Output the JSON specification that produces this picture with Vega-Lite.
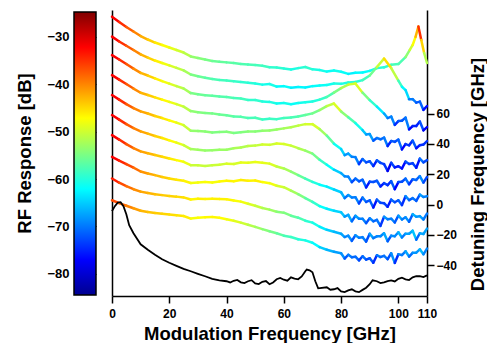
{
"$schema": "https://vega.github.io/schema/vega-lite/v6.json",
"padding": {"left": 15, "top": 10, "right": 0, "bottom": 0},
"spacing": 11,
"config": {
 "view": {"stroke": null},
 "font": "Liberation Sans",
 "axis": {"labelFont": "Liberation Sans", "titleFont": "Liberation Sans", "labelColor": "black", "titleColor": "black", "domainColor": "black", "tickColor": "black", "domainWidth": 1.5, "tickWidth": 1.5, "grid": false, "labelFontWeight": "bold", "titleFontWeight": "bold"}
},
"datasets": {
 "bar": [{"lo": -84.5, "hi": -24.7, "a": 0, "b": 1}],
 "black": [
  {"f":0,"y":-4.4},{"f":1,"y":-1.1},{"f":2,"y":1.2},{"f":3,"y":1.5},{"f":4,"y":-1.1},{"f":5,"y":-6.4},{"f":6,"y":-13.7},{"f":7.5,"y":-19.0},{"f":10,"y":-26.3},{"f":12.5,"y":-29.9},{"f":15,"y":-33.2},{"f":17.5,"y":-36.2},{"f":20,"y":-38.5},{"f":22.5,"y":-40.5},{"f":25,"y":-42.5},{"f":27.5,"y":-44.1},{"f":30,"y":-45.8},{"f":32.5,"y":-47.4},{"f":35,"y":-49.1},{"f":37.5,"y":-50.1},{"f":40,"y":-50.7},{"f":41.25,"y":-51.5},{"f":42.5,"y":-50.4},{"f":43.75,"y":-49.8},{"f":45,"y":-51.4},{"f":46.25,"y":-51.9},{"f":47.5,"y":-50.7},{"f":48.75,"y":-50.0},{"f":50,"y":-52.1},{"f":51.25,"y":-52.6},{"f":52.5,"y":-51.1},{"f":53.75,"y":-50.6},{"f":55,"y":-52.7},{"f":56.25,"y":-51.5},{"f":57.5,"y":-49.4},{"f":58.75,"y":-48.5},{"f":60,"y":-49.7},{"f":61.25,"y":-50.3},{"f":62.5,"y":-48.1},{"f":63.75,"y":-48.9},{"f":65,"y":-49.4},{"f":66.25,"y":-47.5},{"f":67.5,"y":-44.1},{"f":68,"y":-43.0},{"f":69,"y":-43.5},{"f":70,"y":-44.8},{"f":71,"y":-50.7},{"f":72,"y":-55.4},{"f":75,"y":-54.7},{"f":76.25,"y":-56.3},{"f":77.5,"y":-56.0},{"f":78.75,"y":-55.2},{"f":80,"y":-57.4},{"f":81.25,"y":-57.9},{"f":82.5,"y":-56.7},{"f":83.75,"y":-56.0},{"f":85,"y":-57.4},{"f":86.25,"y":-57.9},{"f":87.5,"y":-56.4},{"f":88.75,"y":-55.0},{"f":90,"y":-52.7},{"f":91,"y":-50.1},{"f":92.5,"y":-50.7},{"f":93.75,"y":-51.9},{"f":95,"y":-51.4},{"f":96.25,"y":-50.6},{"f":97.5,"y":-50.1},{"f":98.75,"y":-50.8},{"f":100,"y":-49.1},{"f":101.25,"y":-48.4},{"f":102.5,"y":-49.4},{"f":103.75,"y":-49.9},{"f":105,"y":-48.1},{"f":106.25,"y":-47.4},{"f":107.5,"y":-47.4},{"f":108.75,"y":-48.0},{"f":110,"y":-46.8}
 ],
 "curves": [
  {"c":0,"f":0,"y":124.1,"d":-32.0},{"c":0,"f":2.5,"y":120.6,"d":-34.8},{"c":0,"f":5,"y":117.3,"d":-37.5},{"c":0,"f":7.5,"y":114.3,"d":-40.0},{"c":0,"f":10,"y":111.3,"d":-42.4},{"c":0,"f":12.5,"y":109.0,"d":-44.3},{"c":0,"f":15,"y":107.0,"d":-46.0},{"c":0,"f":17.5,"y":105.4,"d":-47.3},{"c":0,"f":20,"y":103.7,"d":-48.6},{"c":0,"f":22.5,"y":102.1,"d":-50.0},{"c":0,"f":25,"y":100.4,"d":-51.3},{"c":0,"f":27.5,"y":97.8,"d":-53.5},{"c":0,"f":30,"y":96.8,"d":-54.3},{"c":0,"f":32.5,"y":95.8,"d":-55.1},{"c":0,"f":35,"y":94.8,"d":-55.9},{"c":0,"f":37.5,"y":94.3,"d":-56.3},{"c":0,"f":40,"y":93.9,"d":-56.7},{"c":0,"f":42.5,"y":93.5,"d":-57.0},{"c":0,"f":45,"y":92.9,"d":-57.5},{"c":0,"f":47.5,"y":92.5,"d":-57.8},{"c":0,"f":50,"y":92.1,"d":-58.1},{"c":0,"f":52.5,"y":91.6,"d":-58.5},{"c":0,"f":55,"y":90.7,"d":-59.3},{"c":0,"f":57.5,"y":90.5,"d":-59.4},{"c":0,"f":60,"y":89.9,"d":-59.9},{"c":0,"f":62.5,"y":89.2,"d":-60.5},{"c":0,"f":65,"y":90.1,"d":-59.8},{"c":0,"f":67.5,"y":90.8,"d":-59.2},{"c":0,"f":70,"y":89.3,"d":-60.4},{"c":0,"f":72.5,"y":88.8,"d":-60.8},{"c":0,"f":75,"y":87.8,"d":-61.6},{"c":0,"f":77.5,"y":88.5,"d":-61.1},{"c":0,"f":80,"y":87.7,"d":-61.7},{"c":0,"f":82.5,"y":86.3,"d":-62.9},{"c":0,"f":85,"y":87.0,"d":-62.3},{"c":0,"f":87.5,"y":87.2,"d":-62.1},{"c":0,"f":90,"y":88.3,"d":-61.2},{"c":0,"f":92.5,"y":90.1,"d":-59.8},{"c":0,"f":95,"y":90.6,"d":-59.4},{"c":0,"f":97.5,"y":92.3,"d":-58.0},{"c":0,"f":100,"y":92.8,"d":-57.6},{"c":0,"f":102.5,"y":97.4,"d":-53.8},{"c":0,"f":104,"y":102.1,"d":-50.0},{"c":0,"f":105,"y":105.4,"d":-47.3},{"c":0,"f":106,"y":110.7,"d":-42.9},{"c":0,"f":107,"y":117.6,"d":-35.0},{"c":0,"f":108,"y":108.7,"d":-44.6},{"c":0,"f":109,"y":100.1,"d":-51.6},{"c":0,"f":110,"y":93.5,"d":-57.0},

  {"c":1,"f":0,"y":110.9,"d":-32.0},{"c":1,"f":2.5,"y":107.7,"d":-34.9},{"c":1,"f":5,"y":104.9,"d":-37.4},{"c":1,"f":7.5,"y":102.1,"d":-40.0},{"c":1,"f":10,"y":99.2,"d":-42.7},{"c":1,"f":12.5,"y":97.1,"d":-44.6},{"c":1,"f":15,"y":95.1,"d":-46.4},{"c":1,"f":17.5,"y":93.5,"d":-47.9},{"c":1,"f":20,"y":91.9,"d":-49.4},{"c":1,"f":22.5,"y":90.3,"d":-50.8},{"c":1,"f":25,"y":88.6,"d":-52.4},{"c":1,"f":27.5,"y":85.9,"d":-54.9},{"c":1,"f":30,"y":84.7,"d":-56.0},{"c":1,"f":32.5,"y":83.7,"d":-56.9},{"c":1,"f":35,"y":82.9,"d":-57.6},{"c":1,"f":37.5,"y":82.3,"d":-58.2},{"c":1,"f":40,"y":82.0,"d":-58.4},{"c":1,"f":42.5,"y":81.5,"d":-58.9},{"c":1,"f":45,"y":81.0,"d":-59.4},{"c":1,"f":47.5,"y":80.5,"d":-59.8},{"c":1,"f":50,"y":80.0,"d":-60.3},{"c":1,"f":52.5,"y":79.2,"d":-61.0},{"c":1,"f":55,"y":79.6,"d":-60.6},{"c":1,"f":57.5,"y":77.9,"d":-62.2},{"c":1,"f":60,"y":78.2,"d":-61.9},{"c":1,"f":62.5,"y":77.1,"d":-62.9},{"c":1,"f":65,"y":77.7,"d":-62.4},{"c":1,"f":67.5,"y":77.3,"d":-62.7},{"c":1,"f":70,"y":78.2,"d":-61.9},{"c":1,"f":72.5,"y":78.6,"d":-61.6},{"c":1,"f":75,"y":78.9,"d":-61.3},{"c":1,"f":77.5,"y":79.9,"d":-60.4},{"c":1,"f":80,"y":79.7,"d":-60.5},{"c":1,"f":82.5,"y":80.6,"d":-59.7},{"c":1,"f":85,"y":80.9,"d":-59.4},{"c":1,"f":87.5,"y":82.2,"d":-58.3},{"c":1,"f":90,"y":85.2,"d":-55.5},{"c":1,"f":92.5,"y":90.8,"d":-50.4},{"c":1,"f":95,"y":96.4,"d":-45.2},{"c":1,"f":97.5,"y":90.1,"d":-51.0},{"c":1,"f":100,"y":81.9,"d":-58.5},{"c":1,"f":101.25,"y":77.8,"d":-62.3},{"c":1,"f":102.5,"y":75.6,"d":-64.3},{"c":1,"f":103.75,"y":69.6,"d":-69.8},{"c":1,"f":105,"y":69.6,"d":-69.8},{"c":1,"f":106.25,"y":67.3,"d":-72.0},{"c":1,"f":107.5,"y":68.0,"d":-71.3},{"c":1,"f":108.75,"y":62.5,"d":-76.3},{"c":1,"f":110,"y":65.0,"d":-74.0},

  {"c":2,"f":0,"y":98.7,"d":-32.0},{"c":2,"f":2.5,"y":95.8,"d":-34.7},{"c":2,"f":5,"y":92.8,"d":-37.4},{"c":2,"f":7.5,"y":89.8,"d":-40.2},{"c":2,"f":10,"y":87.0,"d":-42.8},{"c":2,"f":12.5,"y":85.2,"d":-44.4},{"c":2,"f":15,"y":83.3,"d":-46.2},{"c":2,"f":17.5,"y":81.5,"d":-47.8},{"c":2,"f":20,"y":79.9,"d":-49.3},{"c":2,"f":22.5,"y":78.2,"d":-50.8},{"c":2,"f":25,"y":76.6,"d":-52.3},{"c":2,"f":27.5,"y":73.6,"d":-55.0},{"c":2,"f":30,"y":72.8,"d":-55.8},{"c":2,"f":32.5,"y":72.2,"d":-56.3},{"c":2,"f":35,"y":71.8,"d":-56.7},{"c":2,"f":37.5,"y":71.3,"d":-57.2},{"c":2,"f":40,"y":71.0,"d":-57.4},{"c":2,"f":42.5,"y":70.4,"d":-58.0},{"c":2,"f":45,"y":70.0,"d":-58.3},{"c":2,"f":47.5,"y":69.1,"d":-59.2},{"c":2,"f":50,"y":69.0,"d":-59.3},{"c":2,"f":52.5,"y":68.0,"d":-60.2},{"c":2,"f":55,"y":67.8,"d":-60.4},{"c":2,"f":57.5,"y":66.7,"d":-61.4},{"c":2,"f":60,"y":67.1,"d":-61.0},{"c":2,"f":62.5,"y":66.3,"d":-61.7},{"c":2,"f":65,"y":67.0,"d":-61.1},{"c":2,"f":67.5,"y":67.5,"d":-60.6},{"c":2,"f":70,"y":68.1,"d":-60.1},{"c":2,"f":72.5,"y":69.3,"d":-59.0},{"c":2,"f":75,"y":71.0,"d":-57.4},{"c":2,"f":77.5,"y":73.9,"d":-54.8},{"c":2,"f":80,"y":76.9,"d":-52.0},{"c":2,"f":82.5,"y":79.2,"d":-49.9},{"c":2,"f":85,"y":80.0,"d":-49.2},{"c":2,"f":87.5,"y":73.9,"d":-54.8},{"c":2,"f":90,"y":69.0,"d":-59.3},{"c":2,"f":92.5,"y":64.7,"d":-63.2},{"c":2,"f":95,"y":60.1,"d":-67.4},{"c":2,"f":96.25,"y":57.1,"d":-70.2},{"c":2,"f":97.5,"y":58.1,"d":-69.3},{"c":2,"f":98.75,"y":52.6,"d":-74.4},{"c":2,"f":100,"y":55.1,"d":-72.0},{"c":2,"f":101.25,"y":55.3,"d":-71.9},{"c":2,"f":102.5,"y":57.4,"d":-69.9},{"c":2,"f":103.75,"y":49.6,"d":-77.1},{"c":2,"f":105,"y":51.8,"d":-75.0},{"c":2,"f":106.25,"y":51.8,"d":-75.1},{"c":2,"f":107.5,"y":54.8,"d":-72.3},{"c":2,"f":108.75,"y":49.0,"d":-77.7},{"c":2,"f":110,"y":51.1,"d":-75.7},

  {"c":3,"f":0,"y":85.5,"d":-32.0},{"c":3,"f":2.5,"y":82.5,"d":-34.8},{"c":3,"f":5,"y":79.6,"d":-37.4},{"c":3,"f":7.5,"y":76.6,"d":-40.2},{"c":3,"f":10,"y":73.8,"d":-42.7},{"c":3,"f":12.5,"y":72.3,"d":-44.1},{"c":3,"f":15,"y":70.8,"d":-45.5},{"c":3,"f":17.5,"y":69.3,"d":-46.9},{"c":3,"f":20,"y":67.8,"d":-48.2},{"c":3,"f":22.5,"y":66.3,"d":-49.6},{"c":3,"f":25,"y":64.7,"d":-51.1},{"c":3,"f":27.5,"y":61.7,"d":-53.8},{"c":3,"f":30,"y":61.0,"d":-54.5},{"c":3,"f":32.5,"y":60.5,"d":-54.9},{"c":3,"f":35,"y":60.2,"d":-55.2},{"c":3,"f":37.5,"y":59.4,"d":-55.9},{"c":3,"f":40,"y":58.9,"d":-56.4},{"c":3,"f":42.5,"y":58.1,"d":-57.1},{"c":3,"f":45,"y":57.9,"d":-57.3},{"c":3,"f":47.5,"y":57.1,"d":-58.0},{"c":3,"f":50,"y":57.3,"d":-57.8},{"c":3,"f":52.5,"y":56.2,"d":-58.9},{"c":3,"f":55,"y":56.6,"d":-58.5},{"c":3,"f":57.5,"y":56.4,"d":-58.7},{"c":3,"f":60,"y":57.1,"d":-58.0},{"c":3,"f":62.5,"y":57.5,"d":-57.7},{"c":3,"f":65,"y":58.2,"d":-57.0},{"c":3,"f":67.5,"y":59.1,"d":-56.2},{"c":3,"f":70,"y":60.2,"d":-55.2},{"c":3,"f":72.5,"y":62.4,"d":-53.2},{"c":3,"f":75,"y":65.0,"d":-50.8},{"c":3,"f":77.5,"y":66.7,"d":-49.2},{"c":3,"f":80,"y":61.5,"d":-54.0},{"c":3,"f":82.5,"y":57.7,"d":-57.5},{"c":3,"f":85,"y":53.8,"d":-61.1},{"c":3,"f":87.5,"y":49.1,"d":-65.4},{"c":3,"f":88.75,"y":46.3,"d":-68.0},{"c":3,"f":90,"y":46.5,"d":-67.8},{"c":3,"f":91.25,"y":42.2,"d":-71.8},{"c":3,"f":92.5,"y":43.9,"d":-70.1},{"c":3,"f":93.75,"y":43.1,"d":-70.9},{"c":3,"f":95,"y":44.2,"d":-69.9},{"c":3,"f":96.25,"y":38.6,"d":-75.1},{"c":3,"f":97.5,"y":41.9,"d":-72.0},{"c":3,"f":98.75,"y":41.4,"d":-72.5},{"c":3,"f":100,"y":42.9,"d":-71.1},{"c":3,"f":101.25,"y":36.4,"d":-77.1},{"c":3,"f":102.5,"y":39.9,"d":-73.8},{"c":3,"f":103.75,"y":39.1,"d":-74.6},{"c":3,"f":105,"y":42.2,"d":-71.7},{"c":3,"f":106.25,"y":37.2,"d":-76.3},{"c":3,"f":107.5,"y":39.2,"d":-74.5},{"c":3,"f":108.75,"y":39.6,"d":-74.2},{"c":3,"f":110,"y":41.9,"d":-72.0},

  {"c":4,"f":0,"y":72.3,"d":-32.0},{"c":4,"f":2.5,"y":69.3,"d":-34.7},{"c":4,"f":5,"y":66.3,"d":-37.5},{"c":4,"f":7.5,"y":63.7,"d":-39.9},{"c":4,"f":10,"y":61.5,"d":-41.9},{"c":4,"f":12.5,"y":60.1,"d":-43.2},{"c":4,"f":15,"y":58.5,"d":-44.6},{"c":4,"f":17.5,"y":57.1,"d":-45.9},{"c":4,"f":20,"y":55.6,"d":-47.3},{"c":4,"f":22.5,"y":54.1,"d":-48.7},{"c":4,"f":25,"y":52.4,"d":-50.2},{"c":4,"f":27.5,"y":48.8,"d":-53.5},{"c":4,"f":30,"y":48.5,"d":-53.8},{"c":4,"f":32.5,"y":48.3,"d":-54.0},{"c":4,"f":35,"y":47.5,"d":-54.7},{"c":4,"f":37.5,"y":47.9,"d":-54.4},{"c":4,"f":40,"y":48.0,"d":-54.3},{"c":4,"f":42.5,"y":47.2,"d":-55.0},{"c":4,"f":45,"y":47.8,"d":-54.4},{"c":4,"f":47.5,"y":48.3,"d":-54.0},{"c":4,"f":50,"y":48.2,"d":-54.1},{"c":4,"f":52.5,"y":48.8,"d":-53.5},{"c":4,"f":55,"y":48.9,"d":-53.4},{"c":4,"f":57.5,"y":49.5,"d":-52.9},{"c":4,"f":60,"y":50.3,"d":-52.2},{"c":4,"f":62.5,"y":51.1,"d":-51.4},{"c":4,"f":65,"y":52.1,"d":-50.5},{"c":4,"f":67.5,"y":53.1,"d":-49.6},{"c":4,"f":70,"y":53.1,"d":-49.6},{"c":4,"f":72.5,"y":49.8,"d":-52.6},{"c":4,"f":75,"y":45.5,"d":-56.5},{"c":4,"f":77.5,"y":40.2,"d":-61.4},{"c":4,"f":80,"y":36.6,"d":-64.7},{"c":4,"f":81.25,"y":32.6,"d":-68.4},{"c":4,"f":82.5,"y":33.6,"d":-67.5},{"c":4,"f":83.75,"y":31.5,"d":-69.5},{"c":4,"f":85,"y":31.3,"d":-69.6},{"c":4,"f":86.25,"y":26.7,"d":-73.9},{"c":4,"f":87.5,"y":30.0,"d":-70.8},{"c":4,"f":88.75,"y":27.8,"d":-72.8},{"c":4,"f":90,"y":28.6,"d":-72.0},{"c":4,"f":91.25,"y":25.4,"d":-75.0},{"c":4,"f":92.5,"y":29.2,"d":-71.5},{"c":4,"f":93.75,"y":27.5,"d":-73.1},{"c":4,"f":95,"y":26.7,"d":-73.8},{"c":4,"f":96.25,"y":22.2,"d":-78.0},{"c":4,"f":97.5,"y":27.6,"d":-73.0},{"c":4,"f":98.75,"y":24.5,"d":-75.9},{"c":4,"f":100,"y":25.3,"d":-75.1},{"c":4,"f":101.25,"y":23.8,"d":-76.5},{"c":4,"f":102.5,"y":28.3,"d":-72.3},{"c":4,"f":103.75,"y":26.8,"d":-73.7},{"c":4,"f":105,"y":27.3,"d":-73.2},{"c":4,"f":106.25,"y":24.3,"d":-76.0},{"c":4,"f":107.5,"y":30.3,"d":-70.5},{"c":4,"f":108.75,"y":27.8,"d":-72.8},{"c":4,"f":110,"y":29.3,"d":-71.4},

  {"c":5,"f":0,"y":59.1,"d":-32.0},{"c":5,"f":2.5,"y":56.1,"d":-34.7},{"c":5,"f":5,"y":53.1,"d":-37.5},{"c":5,"f":7.5,"y":50.5,"d":-39.8},{"c":5,"f":10,"y":48.3,"d":-41.9},{"c":5,"f":12.5,"y":46.8,"d":-43.2},{"c":5,"f":15,"y":45.3,"d":-44.6},{"c":5,"f":17.5,"y":43.9,"d":-45.9},{"c":5,"f":20,"y":42.4,"d":-47.3},{"c":5,"f":22.5,"y":40.9,"d":-48.6},{"c":5,"f":25,"y":39.2,"d":-50.2},{"c":5,"f":27.5,"y":36.6,"d":-52.6},{"c":5,"f":30,"y":36.2,"d":-53.0},{"c":5,"f":32.5,"y":35.7,"d":-53.4},{"c":5,"f":35,"y":35.9,"d":-53.2},{"c":5,"f":37.5,"y":36.1,"d":-53.0},{"c":5,"f":40,"y":36.2,"d":-53.0},{"c":5,"f":42.5,"y":37.2,"d":-52.0},{"c":5,"f":45,"y":37.6,"d":-51.7},{"c":5,"f":47.5,"y":38.6,"d":-50.8},{"c":5,"f":50,"y":38.9,"d":-50.5},{"c":5,"f":52.5,"y":39.7,"d":-49.7},{"c":5,"f":55,"y":39.4,"d":-50.0},{"c":5,"f":57.5,"y":40.3,"d":-49.2},{"c":5,"f":60,"y":40.0,"d":-49.5},{"c":5,"f":62.5,"y":38.9,"d":-50.5},{"c":5,"f":65,"y":37.2,"d":-52.0},{"c":5,"f":67.5,"y":35.6,"d":-53.5},{"c":5,"f":70,"y":33.6,"d":-55.3},{"c":5,"f":72.5,"y":29.6,"d":-59.0},{"c":5,"f":75,"y":26.3,"d":-62.0},{"c":5,"f":77.5,"y":23.0,"d":-65.0},{"c":5,"f":80,"y":20.7,"d":-67.2},{"c":5,"f":81.25,"y":18.6,"d":-69.2},{"c":5,"f":82.5,"y":18.4,"d":-69.3},{"c":5,"f":83.75,"y":14.8,"d":-72.7},{"c":5,"f":85,"y":17.1,"d":-70.5},{"c":5,"f":86.25,"y":15.3,"d":-72.2},{"c":5,"f":87.5,"y":16.4,"d":-71.1},{"c":5,"f":88.75,"y":11.3,"d":-75.8},{"c":5,"f":90,"y":15.1,"d":-72.3},{"c":5,"f":91.25,"y":14.9,"d":-72.5},{"c":5,"f":92.5,"y":15.7,"d":-71.7},{"c":5,"f":93.75,"y":11.9,"d":-75.3},{"c":5,"f":95,"y":14.1,"d":-73.2},{"c":5,"f":96.25,"y":12.8,"d":-74.4},{"c":5,"f":97.5,"y":15.4,"d":-72.0},{"c":5,"f":98.75,"y":10.1,"d":-76.9},{"c":5,"f":100,"y":14.8,"d":-72.6},{"c":5,"f":101.25,"y":15.0,"d":-72.5},{"c":5,"f":102.5,"y":17.1,"d":-70.5},{"c":5,"f":103.75,"y":13.4,"d":-73.9},{"c":5,"f":105,"y":16.7,"d":-70.8},{"c":5,"f":106.25,"y":16.2,"d":-71.3},{"c":5,"f":107.5,"y":18.7,"d":-69.0},{"c":5,"f":108.75,"y":14.5,"d":-72.9},{"c":5,"f":110,"y":18.2,"d":-69.4},

  {"c":6,"f":0,"y":45.8,"d":-32.0},{"c":6,"f":2.5,"y":42.9,"d":-34.7},{"c":6,"f":5,"y":39.9,"d":-37.4},{"c":6,"f":7.5,"y":37.2,"d":-39.9},{"c":6,"f":10,"y":35.1,"d":-41.8},{"c":6,"f":12.5,"y":33.9,"d":-42.9},{"c":6,"f":15,"y":32.7,"d":-44.0},{"c":6,"f":17.5,"y":31.6,"d":-45.0},{"c":6,"f":20,"y":30.4,"d":-46.1},{"c":6,"f":22.5,"y":29.3,"d":-47.2},{"c":6,"f":25,"y":28.2,"d":-48.2},{"c":6,"f":27.5,"y":26.0,"d":-50.2},{"c":6,"f":30,"y":25.9,"d":-50.3},{"c":6,"f":32.5,"y":25.5,"d":-50.6},{"c":6,"f":35,"y":26.0,"d":-50.2},{"c":6,"f":37.5,"y":26.3,"d":-49.9},{"c":6,"f":40,"y":27.0,"d":-49.3},{"c":6,"f":42.5,"y":26.7,"d":-49.5},{"c":6,"f":45,"y":27.8,"d":-48.5},{"c":6,"f":47.5,"y":27.6,"d":-48.7},{"c":6,"f":50,"y":28.1,"d":-48.3},{"c":6,"f":52.5,"y":27.6,"d":-48.7},{"c":6,"f":55,"y":27.0,"d":-49.3},{"c":6,"f":57.5,"y":25.1,"d":-51.0},{"c":6,"f":60,"y":23.8,"d":-52.2},{"c":6,"f":62.5,"y":21.7,"d":-54.1},{"c":6,"f":65,"y":19.4,"d":-56.2},{"c":6,"f":67.5,"y":17.1,"d":-58.3},{"c":6,"f":70,"y":14.9,"d":-60.3},{"c":6,"f":72.5,"y":13.1,"d":-62.0},{"c":6,"f":75,"y":11.8,"d":-63.2},{"c":6,"f":77.5,"y":9.9,"d":-64.9},{"c":6,"f":80,"y":8.1,"d":-66.6},{"c":6,"f":81.25,"y":4.2,"d":-70.2},{"c":6,"f":82.5,"y":6.3,"d":-68.2},{"c":6,"f":83.75,"y":4.6,"d":-69.8},{"c":6,"f":85,"y":4.8,"d":-69.6},{"c":6,"f":86.25,"y":0.7,"d":-73.4},{"c":6,"f":87.5,"y":4.6,"d":-69.8},{"c":6,"f":88.75,"y":1.7,"d":-72.4},{"c":6,"f":90,"y":2.8,"d":-71.4},{"c":6,"f":91.25,"y":-2.0,"d":-75.9},{"c":6,"f":92.5,"y":3.2,"d":-71.1},{"c":6,"f":93.75,"y":1.1,"d":-73.1},{"c":6,"f":95,"y":0.9,"d":-73.2},{"c":6,"f":96.25,"y":-1.5,"d":-75.4},{"c":6,"f":97.5,"y":3.2,"d":-71.1},{"c":6,"f":98.75,"y":1.5,"d":-72.7},{"c":6,"f":100,"y":2.8,"d":-71.4},{"c":6,"f":101.25,"y":-0.4,"d":-74.3},{"c":6,"f":102.5,"y":5.5,"d":-69.0},{"c":6,"f":103.75,"y":2.9,"d":-71.4},{"c":6,"f":105,"y":4.2,"d":-70.2},{"c":6,"f":106.25,"y":2.4,"d":-71.9},{"c":6,"f":107.5,"y":6.5,"d":-68.0},{"c":6,"f":108.75,"y":5.0,"d":-69.4},{"c":6,"f":110,"y":5.5,"d":-69.0},

  {"c":7,"f":0,"y":31.5,"d":-32.0},{"c":7,"f":2.5,"y":29.0,"d":-34.3},{"c":7,"f":5,"y":26.7,"d":-36.4},{"c":7,"f":7.5,"y":24.3,"d":-38.6},{"c":7,"f":10,"y":21.8,"d":-40.9},{"c":7,"f":12.5,"y":20.5,"d":-42.1},{"c":7,"f":15,"y":19.4,"d":-43.1},{"c":7,"f":17.5,"y":18.2,"d":-44.2},{"c":7,"f":20,"y":17.2,"d":-45.1},{"c":7,"f":22.5,"y":16.4,"d":-45.8},{"c":7,"f":25,"y":15.7,"d":-46.5},{"c":7,"f":27.5,"y":14.2,"d":-47.8},{"c":7,"f":30,"y":14.5,"d":-47.6},{"c":7,"f":32.5,"y":14.8,"d":-47.3},{"c":7,"f":35,"y":14.5,"d":-47.6},{"c":7,"f":37.5,"y":15.2,"d":-46.9},{"c":7,"f":40,"y":15.7,"d":-46.5},{"c":7,"f":42.5,"y":15.4,"d":-46.7},{"c":7,"f":45,"y":16.2,"d":-46.0},{"c":7,"f":47.5,"y":15.7,"d":-46.5},{"c":7,"f":50,"y":15.9,"d":-46.3},{"c":7,"f":52.5,"y":14.8,"d":-47.3},{"c":7,"f":55,"y":14.1,"d":-47.9},{"c":7,"f":57.5,"y":12.4,"d":-49.5},{"c":7,"f":60,"y":11.4,"d":-50.4},{"c":7,"f":62.5,"y":9.1,"d":-52.5},{"c":7,"f":65,"y":6.8,"d":-54.6},{"c":7,"f":67.5,"y":4.2,"d":-57.0},{"c":7,"f":70,"y":1.7,"d":-59.3},{"c":7,"f":72.5,"y":-1.1,"d":-61.9},{"c":7,"f":75,"y":-2.8,"d":-63.4},{"c":7,"f":77.5,"y":-4.1,"d":-64.6},{"c":7,"f":80,"y":-5.1,"d":-65.5},{"c":7,"f":81.25,"y":-8.0,"d":-68.1},{"c":7,"f":82.5,"y":-6.8,"d":-67.1},{"c":7,"f":83.75,"y":-11.1,"d":-71.1},{"c":7,"f":85,"y":-7.4,"d":-67.6},{"c":7,"f":86.25,"y":-9.4,"d":-69.5},{"c":7,"f":87.5,"y":-9.4,"d":-69.5},{"c":7,"f":88.75,"y":-12.3,"d":-72.2},{"c":7,"f":90,"y":-9.1,"d":-69.2},{"c":7,"f":91.25,"y":-11.1,"d":-71.1},{"c":7,"f":92.5,"y":-10.1,"d":-70.1},{"c":7,"f":93.75,"y":-14.1,"d":-73.8},{"c":7,"f":95,"y":-8.1,"d":-68.3},{"c":7,"f":96.25,"y":-9.8,"d":-69.8},{"c":7,"f":97.5,"y":-9.4,"d":-69.5},{"c":7,"f":98.75,"y":-11.9,"d":-71.8},{"c":7,"f":100,"y":-7.4,"d":-67.6},{"c":7,"f":101.25,"y":-9.9,"d":-69.9},{"c":7,"f":102.5,"y":-8.4,"d":-68.6},{"c":7,"f":103.75,"y":-11.4,"d":-71.4},{"c":7,"f":105,"y":-6.4,"d":-66.7},{"c":7,"f":106.25,"y":-8.1,"d":-68.2},{"c":7,"f":107.5,"y":-7.7,"d":-67.9},{"c":7,"f":108.75,"y":-9.9,"d":-70.0},{"c":7,"f":110,"y":-6.0,"d":-66.4},

  {"c":8,"f":0,"y":17.2,"d":-34.0},{"c":8,"f":2.5,"y":14.4,"d":-36.6},{"c":8,"f":5,"y":12.1,"d":-38.7},{"c":8,"f":7.5,"y":10.1,"d":-40.5},{"c":8,"f":10,"y":8.5,"d":-42.0},{"c":8,"f":12.5,"y":7.6,"d":-42.8},{"c":8,"f":15,"y":6.8,"d":-43.5},{"c":8,"f":17.5,"y":6.2,"d":-44.1},{"c":8,"f":20,"y":5.6,"d":-44.6},{"c":8,"f":22.5,"y":5.2,"d":-45.0},{"c":8,"f":25,"y":4.7,"d":-45.5},{"c":8,"f":27.5,"y":3.3,"d":-46.7},{"c":8,"f":30,"y":3.8,"d":-46.3},{"c":8,"f":32.5,"y":3.6,"d":-46.5},{"c":8,"f":35,"y":3.8,"d":-46.3},{"c":8,"f":37.5,"y":3.7,"d":-46.4},{"c":8,"f":40,"y":3.5,"d":-46.6},{"c":8,"f":42.5,"y":2.6,"d":-47.4},{"c":8,"f":45,"y":1.9,"d":-48.0},{"c":8,"f":47.5,"y":0.5,"d":-49.3},{"c":8,"f":50,"y":-0.8,"d":-50.5},{"c":8,"f":52.5,"y":-2.3,"d":-51.9},{"c":8,"f":55,"y":-3.4,"d":-52.9},{"c":8,"f":57.5,"y":-4.8,"d":-54.2},{"c":8,"f":60,"y":-5.4,"d":-54.7},{"c":8,"f":62.5,"y":-7.4,"d":-56.5},{"c":8,"f":65,"y":-8.7,"d":-57.7},{"c":8,"f":67.5,"y":-10.7,"d":-59.6},{"c":8,"f":70,"y":-12.0,"d":-60.8},{"c":8,"f":72.5,"y":-14.7,"d":-63.2},{"c":8,"f":75,"y":-16.7,"d":-65.1},{"c":8,"f":77.5,"y":-18.0,"d":-66.3},{"c":8,"f":80,"y":-19.3,"d":-67.4},{"c":8,"f":81.25,"y":-21.5,"d":-69.4},{"c":8,"f":82.5,"y":-20.6,"d":-68.6},{"c":8,"f":83.75,"y":-24.0,"d":-71.7},{"c":8,"f":85,"y":-20.3,"d":-68.4},{"c":8,"f":86.25,"y":-22.0,"d":-69.9},{"c":8,"f":87.5,"y":-21.6,"d":-69.6},{"c":8,"f":88.75,"y":-24.5,"d":-72.2},{"c":8,"f":90,"y":-19.3,"d":-67.4},{"c":8,"f":91.25,"y":-22.2,"d":-70.0},{"c":8,"f":92.5,"y":-21.0,"d":-69.0},{"c":8,"f":93.75,"y":-21.0,"d":-69.0},{"c":8,"f":95,"y":-19.0,"d":-67.2},{"c":8,"f":96.25,"y":-24.3,"d":-72.0},{"c":8,"f":97.5,"y":-20.6,"d":-68.6},{"c":8,"f":98.75,"y":-21.0,"d":-69.0},{"c":8,"f":100,"y":-18.3,"d":-66.5},{"c":8,"f":101.25,"y":-21.8,"d":-69.8},{"c":8,"f":102.5,"y":-19.3,"d":-67.4},{"c":8,"f":103.75,"y":-19.3,"d":-67.4},{"c":8,"f":105,"y":-17.3,"d":-65.6},{"c":8,"f":106.25,"y":-23.2,"d":-71.0},{"c":8,"f":107.5,"y":-19.0,"d":-67.2},{"c":8,"f":108.75,"y":-19.5,"d":-67.6},{"c":8,"f":110,"y":-15.9,"d":-64.3},

  {"c":9,"f":0,"y":2.8,"d":-36.5},{"c":9,"f":2.5,"y":0.9,"d":-38.3},{"c":9,"f":5,"y":-0.8,"d":-39.8},{"c":9,"f":7.5,"y":-2.5,"d":-41.4},{"c":9,"f":10,"y":-4.1,"d":-42.9},{"c":9,"f":12.5,"y":-5.0,"d":-43.7},{"c":9,"f":15,"y":-5.6,"d":-44.2},{"c":9,"f":17.5,"y":-6.1,"d":-44.7},{"c":9,"f":20,"y":-6.6,"d":-45.2},{"c":9,"f":22.5,"y":-7.1,"d":-45.6},{"c":9,"f":25,"y":-7.6,"d":-46.1},{"c":9,"f":27.5,"y":-9.3,"d":-47.6},{"c":9,"f":30,"y":-8.7,"d":-47.1},{"c":9,"f":32.5,"y":-8.4,"d":-46.8},{"c":9,"f":35,"y":-8.3,"d":-46.7},{"c":9,"f":37.5,"y":-8.7,"d":-47.1},{"c":9,"f":40,"y":-9.7,"d":-48.0},{"c":9,"f":42.5,"y":-10.7,"d":-48.9},{"c":9,"f":45,"y":-12.0,"d":-50.1},{"c":9,"f":47.5,"y":-13.4,"d":-51.4},{"c":9,"f":50,"y":-14.8,"d":-52.7},{"c":9,"f":52.5,"y":-16.3,"d":-54.1},{"c":9,"f":55,"y":-17.7,"d":-55.3},{"c":9,"f":57.5,"y":-19.0,"d":-56.5},{"c":9,"f":60,"y":-20.6,"d":-58.0},{"c":9,"f":62.5,"y":-21.5,"d":-58.8},{"c":9,"f":65,"y":-23.0,"d":-60.2},{"c":9,"f":67.5,"y":-23.7,"d":-60.8},{"c":9,"f":70,"y":-25.3,"d":-62.3},{"c":9,"f":72.5,"y":-28.2,"d":-65.0},{"c":9,"f":75,"y":-29.9,"d":-66.5},{"c":9,"f":77.5,"y":-31.2,"d":-67.7},{"c":9,"f":80,"y":-32.2,"d":-68.6},{"c":9,"f":81.25,"y":-35.7,"d":-71.9},{"c":9,"f":82.5,"y":-33.2,"d":-69.5},{"c":9,"f":83.75,"y":-34.9,"d":-71.0},{"c":9,"f":85,"y":-34.5,"d":-70.7},{"c":9,"f":86.25,"y":-36.9,"d":-72.9},{"c":9,"f":87.5,"y":-34.2,"d":-70.5},{"c":9,"f":88.75,"y":-36.4,"d":-72.5},{"c":9,"f":90,"y":-35.5,"d":-71.6},{"c":9,"f":91.25,"y":-38.5,"d":-74.4},{"c":9,"f":92.5,"y":-33.5,"d":-69.8},{"c":9,"f":93.75,"y":-34.7,"d":-70.9},{"c":9,"f":95,"y":-33.9,"d":-70.2},{"c":9,"f":96.25,"y":-36.1,"d":-72.2},{"c":9,"f":97.5,"y":-32.2,"d":-68.6},{"c":9,"f":98.75,"y":-38.6,"d":-74.5},{"c":9,"f":100,"y":-32.9,"d":-69.3},{"c":9,"f":101.25,"y":-33.4,"d":-69.8},{"c":9,"f":102.5,"y":-30.9,"d":-67.4},{"c":9,"f":103.75,"y":-34.4,"d":-70.7},{"c":9,"f":105,"y":-31.9,"d":-68.3},{"c":9,"f":106.25,"y":-31.8,"d":-68.2},{"c":9,"f":107.5,"y":-29.6,"d":-66.2},{"c":9,"f":108.75,"y":-32.9,"d":-69.2},{"c":9,"f":110,"y":-29.1,"d":-65.8}
 ]
},
"hconcat": [
 {
  "width": 22, "height": 286,
  "data": {"name": "bar"},
  "encoding": {
   "x": {"field": "a", "type": "quantitative", "scale": {"domain": [0, 1], "nice": false, "zero": false}, "axis": null},
   "x2": {"field": "b"}
  },
  "layer": [
   {
    "mark": {"type": "rect", "fill": {"gradient": "linear", "x1": 0, "y1": 1, "x2": 0, "y2": 0, "stops": [{"offset": 0, "color": "#00008f"}, {"offset": 0.125, "color": "#0000ff"}, {"offset": 0.375, "color": "#00ffff"}, {"offset": 0.625, "color": "#ffff00"}, {"offset": 0.875, "color": "#ff0000"}, {"offset": 1, "color": "#800000"}]}, "stroke": "black", "strokeWidth": 1.5},
    "encoding": {
     "y": {"field": "lo", "type": "quantitative", "scale": {"domain": [-84.7, -24.3], "nice": false, "zero": false},
      "axis": {"orient": "left", "values": [-80, -70, -60, -50, -40, -30], "domain": false, "ticks": false, "labelFontSize": 13, "labelPadding": 5, "labelFlush": false, "title": "RF Response [dB]", "titleFontSize": 18.5, "titlePadding": 12}},
     "y2": {"field": "hi"}
    }
   },
   {
    "mark": {"type": "rect", "opacity": 0},
    "encoding": {
     "y": {"field": "lo", "type": "quantitative", "scale": {"domain": [-84.7, -24.3], "nice": false, "zero": false},
      "axis": {"orient": "right", "values": [-80, -70, -60, -50, -40, -30], "domain": false, "labels": false, "tickSize": -4, "tickWidth": 1, "title": null}},
     "y2": {"field": "hi"}
    }
   }
  ],
  "resolve": {"axis": {"y": "independent"}}
 },
 {
  "width": 315, "height": 286,
  "encoding": {
   "x": {"field": "f", "type": "quantitative", "scale": {"domain": [0, 110], "nice": false, "zero": false},
    "axis": {"values": [0, 20, 40, 60, 80, 100, 110], "tickSize": 7, "labelFontSize": 12, "labelPadding": 5, "labelFlush": false, "labelOverlap": false, "title": "Modulation Frequency [GHz]", "titleFontSize": 18.5, "titlePadding": 5}}
  },
  "layer": [
   {
    "data": {"name": "curves"},
    "transform": [
     {"window": [{"op": "lead", "field": "f", "as": "f2"}, {"op": "lead", "field": "y", "as": "y2"}], "groupby": ["c"], "sort": [{"field": "f", "order": "ascending"}]},
     {"filter": "datum.f2 != null"}
    ],
    "mark": {"type": "rule", "strokeWidth": 2.5, "strokeCap": "round"},
    "encoding": {
     "x2": {"field": "f2"},
     "y": {"field": "y", "type": "quantitative", "scale": {"domain": [-60.45, 128.5], "nice": false, "zero": false},
      "axis": {"orient": "left", "labels": false, "ticks": false, "title": null, "domain": true}},
     "y2": {"field": "y2"},
     "color": {"field": "d", "type": "quantitative", "legend": null,
      "scale": {"type": "linear", "domain": [-84.5, -77.0, -62.1, -47.1, -32.2, -24.7], "range": ["#00008f", "#0000ff", "#00ffff", "#ffff00", "#ff0000", "#800000"], "interpolate": "rgb", "clamp": true}}
    }
   },
   {
    "data": {"name": "black"},
    "mark": {"type": "line", "color": "black", "strokeWidth": 1.8},
    "encoding": {
     "y": {"field": "y", "type": "quantitative", "scale": {"domain": [-60.45, 128.5], "nice": false, "zero": false},
      "axis": {"orient": "right", "values": [-40, -20, 0, 20, 40, 60], "tickSize": 7, "labelFontSize": 12, "labelPadding": 2, "labelFlush": false, "labelOverlap": false, "title": "Detuning Frequency [GHz]", "titleFontSize": 18.5, "titleAngle": 270, "titleBaseline": "top", "titleAlign": "center", "titleY": 164, "titlePadding": 12}}
    }
   }
  ],
  "resolve": {"axis": {"y": "independent"}}
 }
]
}
